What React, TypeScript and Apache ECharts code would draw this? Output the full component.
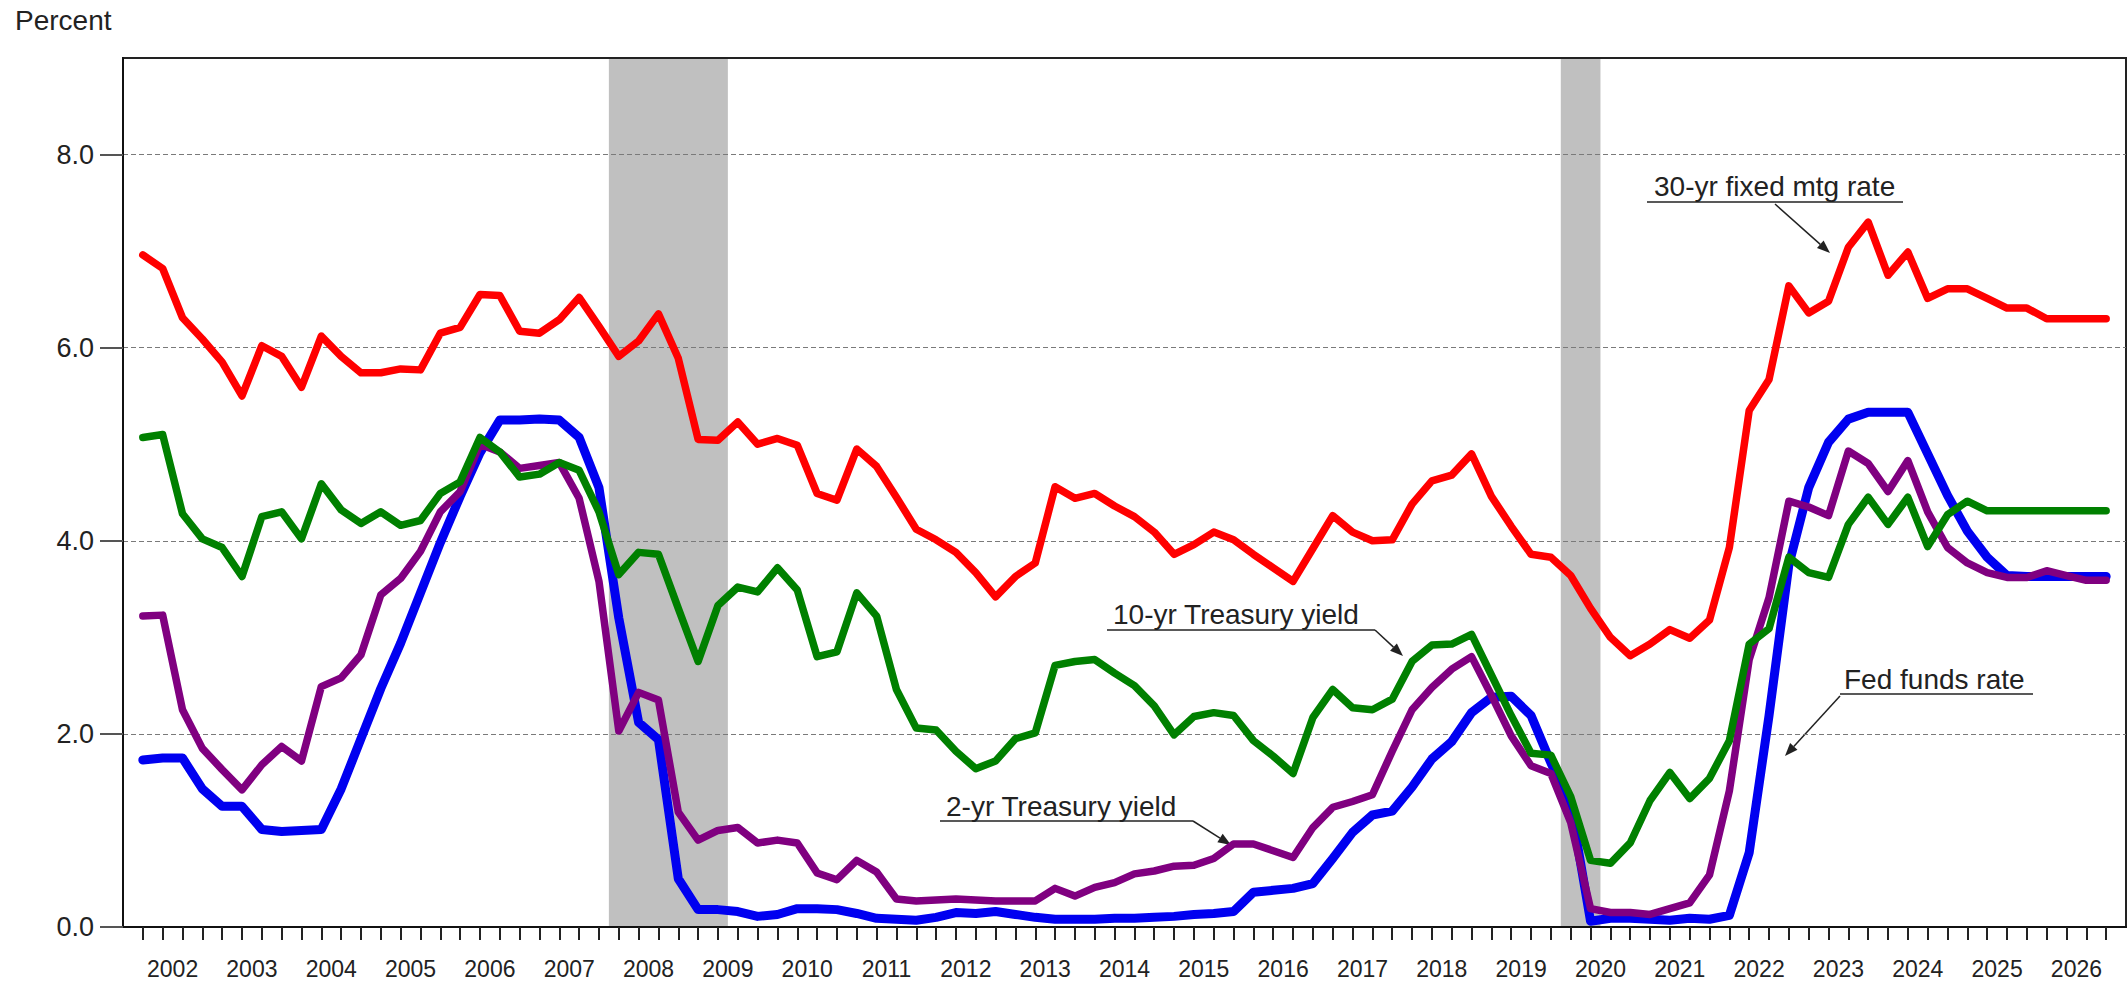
import React, { useEffect, useRef } from "react";
import * as echarts from "echarts";

// Quarterly data, 2002Q1 .. 2026Q4 (index 0..99)
const years = ["2002","2003","2004","2005","2006","2007","2008","2009","2010","2011","2012","2013","2014","2015","2016","2017","2018","2019","2020","2021","2022","2023","2024","2025","2026"];

const mortgage30 = [
  6.96, 6.82, 6.31, 6.09, 5.85, 5.50, 6.02, 5.91, 5.59, 6.12,
  5.91, 5.74, 5.74, 5.78, 5.77, 6.15, 6.21, 6.55, 6.54, 6.17,
  6.15, 6.29, 6.52, 6.22, 5.91, 6.07, 6.35, 5.89, 5.05, 5.04,
  5.23, 5.00, 5.06, 4.99, 4.49, 4.42, 4.95, 4.77, 4.45, 4.12,
  4.01, 3.88, 3.67, 3.42, 3.63, 3.77, 4.56, 4.44, 4.49, 4.36,
  4.25, 4.09, 3.86, 3.96, 4.09, 4.01, 3.86, 3.72, 3.58, 3.92,
  4.26, 4.09, 4.00, 4.01, 4.38, 4.62, 4.68, 4.90, 4.46, 4.15,
  3.86, 3.83, 3.64, 3.30, 3.00, 2.81, 2.93, 3.08, 2.99, 3.18,
  3.93, 5.35, 5.67, 6.64, 6.36, 6.48, 7.04, 7.30, 6.75, 6.99,
  6.51, 6.61, 6.61, 6.51, 6.41, 6.41, 6.30, 6.30, 6.30, 6.30,
];

const treasury10 = [
  5.07, 5.10, 4.28, 4.02, 3.93, 3.63, 4.25, 4.30, 4.02, 4.59,
  4.32, 4.18, 4.30, 4.16, 4.21, 4.49, 4.61, 5.07, 4.92, 4.66,
  4.69, 4.81, 4.73, 4.30, 3.65, 3.88, 3.86, 3.30, 2.75, 3.33,
  3.52, 3.47, 3.72, 3.49, 2.80, 2.85, 3.46, 3.22, 2.46, 2.06,
  2.04, 1.82, 1.64, 1.72, 1.95, 2.01, 2.71, 2.75, 2.77, 2.63,
  2.50, 2.29, 1.99, 2.18, 2.22, 2.19, 1.93, 1.77, 1.59, 2.17,
  2.46, 2.27, 2.25, 2.36, 2.75, 2.92, 2.93, 3.03, 2.61, 2.19,
  1.80, 1.78, 1.35, 0.69, 0.66, 0.87, 1.31, 1.60, 1.33, 1.54,
  1.93, 2.93, 3.09, 3.83, 3.67, 3.62, 4.17, 4.45, 4.17, 4.45,
  3.94, 4.27, 4.41, 4.31, 4.31, 4.31, 4.31, 4.31, 4.31, 4.31,
];

const treasury2 = [
  3.22, 3.23, 2.25, 1.85, 1.63, 1.42, 1.68, 1.87, 1.72, 2.49,
  2.58, 2.82, 3.44, 3.61, 3.89, 4.30, 4.51, 5.00, 4.92, 4.75,
  4.78, 4.81, 4.44, 3.58, 2.03, 2.43, 2.35, 1.19, 0.90, 1.00,
  1.03, 0.87, 0.90, 0.87, 0.56, 0.49, 0.69, 0.57, 0.29, 0.27,
  0.28, 0.29, 0.28, 0.27, 0.27, 0.27, 0.40, 0.32, 0.41, 0.46,
  0.55, 0.58, 0.63, 0.64, 0.71, 0.86, 0.86, 0.79, 0.72, 1.03,
  1.24, 1.30, 1.37, 1.82, 2.25, 2.48, 2.67, 2.80, 2.40, 1.98,
  1.67, 1.59, 1.08, 0.19, 0.15, 0.15, 0.13, 0.19, 0.25, 0.54,
  1.41, 2.77, 3.41, 4.41, 4.35, 4.26, 4.93, 4.80, 4.51, 4.83,
  4.30, 3.93, 3.77, 3.67, 3.62, 3.62, 3.69, 3.64, 3.59, 3.59,
];

const fedFunds = [
  1.73, 1.75, 1.75, 1.43, 1.25, 1.25, 1.01, 0.99, 1.00, 1.01,
  1.43, 1.95, 2.47, 2.94, 3.46, 3.98, 4.46, 4.91, 5.25, 5.25,
  5.26, 5.25, 5.07, 4.55, 3.20, 2.12, 1.94, 0.50, 0.18, 0.18,
  0.16, 0.11, 0.13, 0.19, 0.19, 0.18, 0.14, 0.09, 0.08, 0.07,
  0.10, 0.15, 0.14, 0.16, 0.13, 0.10, 0.08, 0.08, 0.08, 0.09,
  0.09, 0.10, 0.11, 0.13, 0.14, 0.16, 0.36, 0.38, 0.40, 0.45,
  0.71, 0.98, 1.16, 1.20, 1.45, 1.74, 1.92, 2.22, 2.38, 2.39,
  2.19, 1.70, 1.26, 0.06, 0.09, 0.09, 0.08, 0.07, 0.09, 0.08,
  0.12, 0.77, 2.19, 3.75, 4.55, 5.02, 5.26, 5.33, 5.33, 5.33,
  4.90, 4.47, 4.10, 3.83, 3.64, 3.63, 3.63, 3.63, 3.63, 3.63,
];

// Recession periods, in quarter-index units
const recessions = [
  [23.5, 29.5],
  [71.5, 73.5],
];

const yTickValues = [0, 2, 4, 6, 8];

const FONT = '"Liberation Sans", Arial, sans-serif';

function arrow(x1: number, y1: number, x2: number, y2: number) {
  const ang = Math.atan2(y2 - y1, x2 - x1);
  const L = 13;
  const W = 5;
  const bx = x2 - L * Math.cos(ang);
  const by = y2 - L * Math.sin(ang);
  const px = -Math.sin(ang) * W;
  const py = Math.cos(ang) * W;
  return [
    { type: "line", shape: { x1, y1, x2: bx, y2: by }, style: { stroke: "#222", lineWidth: 1.5 } },
    { type: "polygon", shape: { points: [[x2, y2], [bx + px, by + py], [bx - px, by - py]] }, style: { fill: "#222" } },
  ];
}

function annotation(text: string, tx: number, ty: number, ux1: number, ux2: number, uy: number, a: number[]) {
  return [
    { type: "text", x: tx, y: ty, style: { text, font: `28px ${FONT}`, fill: "#222", verticalAlign: "middle", align: "left" } },
    { type: "line", shape: { x1: ux1, y1: uy, x2: ux2, y2: uy }, style: { stroke: "#222", lineWidth: 1.5 } },
    ...arrow(a[0], a[1], a[2], a[3]),
  ];
}

export default function App() {
  const ref = useRef<HTMLDivElement>(null);

  useEffect(() => {
    if (!ref.current) return;
    const chart = echarts.init(ref.current, undefined, { renderer: "svg" });

    const tickValues = mortgage30.map((_, i) => i);
    const labelValues = years.map((_, k) => 1.5 + 4 * k);

    const lineSeries = (name: string, data: number[], color: string, width: number) => ({
      type: "line",
      name,
      data: data.map((v, i) => [i, v]),
      showSymbol: false,
      symbol: "none",
      z: 3,
      lineStyle: { color, width, join: "round", cap: "round" },
      itemStyle: { color },
      silent: true,
    });

    const option: any = {
      animation: false,
      backgroundColor: "#ffffff",
      grid: {
        left: 123,
        right: 2,
        top: 58,
        bottom: 56,
        show: true,
        borderColor: "#222",
        borderWidth: 2,
        backgroundColor: "transparent",
        z: 2,
        containLabel: false,
        outerBoundsMode: "none",
      },
      xAxis: {
        type: "value",
        min: -1,
        max: 100,
        interval: 1,
        z: 2,
        axisLine: { show: true, onZero: false, lineStyle: { color: "#111", width: 2 } },
        axisTick: {
          show: true,
          inside: false,
          length: 13,
          customValues: tickValues,
          lineStyle: { color: "#222", width: 2 },
        },
        axisLabel: {
          show: true,
          customValues: labelValues,
          formatter: (v: number) => {
            const k = Math.round((v - 1.5) / 4);
            return years[k] ?? "";
          },
          fontSize: 23,
          fontFamily: FONT,
          color: "#222",
          margin: 30,
          hideOverlap: false,
        },
        splitLine: { show: false },
      },
      yAxis: {
        type: "value",
        min: 0,
        max: 9,
        interval: 2,
        z: 2,
        axisLine: { show: true, onZero: false, lineStyle: { color: "#111", width: 2 } },
        axisTick: {
          show: true,
          inside: false,
          length: 23,
          customValues: yTickValues,
          lineStyle: { color: "#555", width: 2 },
        },
        axisLabel: {
          show: true,
          customValues: yTickValues,
          formatter: (v: number) => v.toFixed(1),
          fontSize: 27,
          fontFamily: FONT,
          color: "#222",
          margin: 29,
          showMinLabel: true,
          showMaxLabel: true,
        },
        splitLine: {
          show: true,
          lineStyle: { color: "#7a7a7a", width: 1.2, type: [5, 3] },
        },
      },
      series: [
        {
          type: "line",
          name: "recessions",
          data: [],
          z: 1,
          silent: true,
          markArea: {
            silent: true,
            itemStyle: { color: "#c0c0c0", opacity: 1 },
            data: recessions.map(([a, b]) => [
              { xAxis: a, yAxis: 0 },
              { xAxis: b, yAxis: 9 },
            ]),
          },
        },
        lineSeries("Fed funds rate", fedFunds, "#0000f0", 9),
        lineSeries("2-yr Treasury yield", treasury2, "#800080", 7.5),
        lineSeries("10-yr Treasury yield", treasury10, "#008000", 7.5),
        lineSeries("30-yr fixed mtg rate", mortgage30, "#ff0000", 7.5),
      ],
      graphic: [
        {
          type: "text",
          left: 15,
          top: 6,
          style: { text: "Percent", font: `28px ${FONT}`, fill: "#222" },
        },
        {
          type: "group",
          children: [
            ...annotation("30-yr fixed mtg rate", 1654, 186, 1647, 1903, 202, [1775, 204, 1830, 253]),
            ...annotation("10-yr Treasury yield", 1113, 614, 1107, 1375, 630, [1375, 630, 1403, 656]),
            ...annotation("2-yr Treasury yield", 946, 806, 940, 1193, 821, [1193, 821, 1231, 845]),
            ...annotation("Fed funds rate", 1844, 679, 1840, 2033, 694, [1840, 696, 1785, 756]),
          ],
        },
      ],
    };

    chart.setOption(option);
    return () => chart.dispose();
  }, []);

  return (
    <div
      ref={ref}
      style={{ position: "fixed", left: 0, top: 0, width: 2128, height: 983, background: "#fff" }}
    />
  );
}
